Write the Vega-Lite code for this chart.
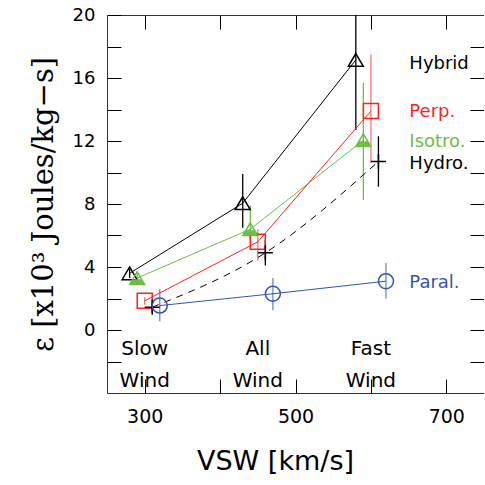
{
  "$schema": "https://vega.github.io/schema/vega-lite/v6.json",
  "width": 377,
  "height": 378,
  "autosize": {"type": "none"},
  "padding": {"left": 107, "top": 15, "right": 0, "bottom": 92},
  "background": "white",
  "config": {
    "view": {"stroke": null},
    "axis": {"grid": false, "domainColor": "#333", "tickColor": "#000", "labelColor": "#000", "titleColor": "#000", "labelFont": "DejaVu Sans", "titleFont": "DejaVu Sans", "labelFontSize": 19, "tickSize": -14, "tickWidth": 1}
  },
  "datasets": {
    "pts": [
      {"series": "Hybrid", "v": 280, "e": 3.6, "lo": 3.3, "hi": 3.9},
      {"series": "Hybrid", "v": 430, "e": 8.05, "lo": 6.5, "hi": 9.9},
      {"series": "Hybrid", "v": 580, "e": 17.15, "lo": 12.7, "hi": 21.5},
      {"series": "Isotro", "v": 290, "e": 3.3, "lo": 3.0, "hi": 3.6},
      {"series": "Isotro", "v": 440, "e": 6.4, "lo": 5.8, "hi": 7.9},
      {"series": "Isotro", "v": 590, "e": 12.05, "lo": 8.25, "hi": 15.7},
      {"series": "Perp", "v": 300, "e": 1.85, "lo": 1.6, "hi": 2.1},
      {"series": "Perp", "v": 450, "e": 5.6, "lo": 4.4, "hi": 6.4},
      {"series": "Perp", "v": 600, "e": 13.9, "lo": 10.6, "hi": 17.5},
      {"series": "Hydro", "v": 310, "e": 1.45, "lo": 1.1, "hi": 1.8},
      {"series": "Hydro", "v": 460, "e": 4.9, "lo": 4.1, "hi": 5.7},
      {"series": "Hydro", "v": 610, "e": 10.7, "lo": 9.1, "hi": 12.3},
      {"series": "Paral", "v": 320, "e": 1.55, "lo": 0.55, "hi": 2.6},
      {"series": "Paral", "v": 470, "e": 2.3, "lo": 1.25, "hi": 3.3},
      {"series": "Paral", "v": 620, "e": 3.1, "lo": 2.0, "hi": 4.25}
    ],
    "labels": [
      {"series": "Hybrid", "text": "Hybrid", "v": 651, "e": 16.6},
      {"series": "Perp", "text": "Perp.", "v": 651, "e": 13.5},
      {"series": "Isotro", "text": "Isotro.", "v": 651, "e": 11.6},
      {"series": "Hydro", "text": "Hydro.", "v": 651, "e": 10.25},
      {"series": "Paral", "text": "Paral.", "v": 651, "e": 2.67}
    ],
    "cats": [
      {"text": "Slow", "v": 300, "e": -1.6},
      {"text": "Wind", "v": 300, "e": -3.6},
      {"text": "All", "v": 450, "e": -1.6},
      {"text": "Wind", "v": 450, "e": -3.6},
      {"text": "Fast", "v": 600, "e": -1.6},
      {"text": "Wind", "v": 600, "e": -3.6}
    ]
  },
  "resolve": {"axis": {"x": "independent", "y": "independent"}},
  "layer": [
    {
      "data": {"name": "pts"},
      "mark": {"type": "rule", "clip": true, "strokeWidth": 1.3},
      "encoding": {
        "x": {"field": "v", "type": "quantitative", "scale": {"domain": [250, 750], "nice": false, "zero": false},
          "axis": {"orient": "bottom", "values": [300, 400, 500, 600, 700], "labelExpr": "datum.value % 200 == 100 ? datum.label : ''", "labelPadding": 28, "title": "VSW [km/s]", "titleFontSize": 27, "titleFontWeight": "normal", "titlePadding": 22, "titleX": 168}},
        "y": {"field": "lo", "type": "quantitative", "scale": {"domain": [-4, 20], "nice": false, "zero": false},
          "axis": {"orient": "left", "values": [-2, 0, 2, 4, 6, 8, 10, 12, 14, 16, 18, 20], "labelExpr": "datum.value >= 0 && datum.value % 4 == 0 ? datum.label : ''", "labelPadding": 26, "labelFontSize": 18, "title": "ε [x10³ Joules/kg−s]", "titleFont": "DejaVu Serif", "titleFontSize": 29, "titleFontWeight": "normal", "titlePadding": 14}},
        "y2": {"field": "hi"},
        "stroke": {"field": "series", "type": "nominal", "legend": null,
          "scale": {"domain": ["Hybrid", "Isotro", "Perp", "Hydro", "Paral"], "range": ["#000000", "#6cbf45", "#f87878", "#000000", "#6f88cc"]}}
      }
    },
    {
      "data": {"name": "pts"},
      "transform": [{"filter": "datum.series != 'Hydro'"}],
      "mark": {"type": "line", "strokeWidth": 1},
      "encoding": {
        "x": {"field": "v", "type": "quantitative", "axis": {"orient": "top", "values": [300, 400, 500, 600, 700], "labels": false, "title": null}},
        "y": {"field": "e", "type": "quantitative", "axis": {"orient": "right", "values": [-2, 0, 2, 4, 6, 8, 10, 12, 14, 16, 18], "labels": false, "title": null}},
        "detail": {"field": "series"},
        "color": {"field": "series", "type": "nominal", "legend": null,
          "scale": {"domain": ["Hybrid", "Isotro", "Perp", "Hydro", "Paral"], "range": ["#000000", "#6cbf45", "#ff1f1f", "#000000", "#3355aa"]}}
      }
    },
    {
      "data": {"name": "pts"},
      "transform": [{"filter": "datum.series == 'Hydro'"}],
      "mark": {"type": "line", "strokeWidth": 1, "strokeDash": [7, 6], "interpolate": "monotone", "color": "#000000"},
      "encoding": {
        "x": {"field": "v", "type": "quantitative", "axis": null},
        "y": {"field": "e", "type": "quantitative", "axis": null}
      }
    },
    {
      "data": {"name": "pts"},
      "mark": {"type": "point", "filled": false, "strokeWidth": 1.5, "opacity": 1},
      "encoding": {
        "x": {"field": "v", "type": "quantitative", "axis": null},
        "y": {"field": "e", "type": "quantitative", "axis": null},
        "color": {"field": "series", "type": "nominal", "legend": null},
        "shape": {"field": "series", "type": "nominal", "legend": null,
          "scale": {"domain": ["Hybrid", "Isotro", "Perp", "Hydro", "Paral"], "range": ["M0,-0.85L1,0.85L-1,0.85Z", "M0,-0.85L1,0.85L-1,0.85Z", "square", "M-1,0L1,0M0,-1L0,1", "circle"]}},
        "size": {"field": "series", "type": "nominal", "legend": null,
          "scale": {"domain": ["Hybrid", "Isotro", "Perp", "Hydro", "Paral"], "range": [225, 225, 200, 180, 200]}}
      }
    },
    {
      "data": {"name": "pts"},
      "transform": [{"filter": "datum.series == 'Isotro'"}],
      "mark": {"type": "point", "filled": true, "shape": "M-0.59,0.15L0.59,0.15L1,0.85L-1,0.85Z", "size": 225, "color": "#6cbf45", "opacity": 1},
      "encoding": {
        "x": {"field": "v", "type": "quantitative", "axis": null},
        "y": {"field": "e", "type": "quantitative", "axis": null}
      }
    },
    {
      "data": {"name": "labels"},
      "mark": {"type": "text", "align": "left", "baseline": "alphabetic", "font": "DejaVu Sans", "fontSize": 18},
      "encoding": {
        "x": {"field": "v", "type": "quantitative", "axis": null},
        "y": {"field": "e", "type": "quantitative", "axis": null},
        "text": {"field": "text"},
        "color": {"field": "series", "type": "nominal", "legend": null}
      }
    },
    {
      "data": {"name": "cats"},
      "mark": {"type": "text", "align": "center", "baseline": "alphabetic", "font": "DejaVu Sans", "fontSize": 20, "color": "#000"},
      "encoding": {
        "x": {"field": "v", "type": "quantitative", "axis": null},
        "y": {"field": "e", "type": "quantitative", "axis": null},
        "text": {"field": "text"}
      }
    }
  ]
}
